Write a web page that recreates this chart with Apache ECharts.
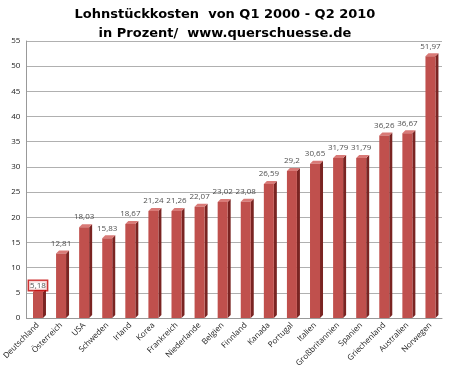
<!DOCTYPE html>
<html><head><meta charset="utf-8">
<script src="https://cdn.jsdelivr.net/npm/echarts@6/dist/echarts.min.js"></script>
<style>html,body{margin:0;padding:0;background:#fff}#c{width:450px;height:373px}</style>
</head><body><div id="c"></div>
<script>
const categories = ["Deutschland","Österreich","USA","Schweden","Irland","Korea","Frankreich","Niederlande","Belgien","Finnland","Kanada","Portugal","Italien","Großbritannien","Spanien","Griechenland","Australien","Norwegen"];
const values = [5.18,12.81,18.03,15.83,18.67,21.24,21.26,22.07,23.02,23.08,26.59,29.2,30.65,31.79,31.79,36.26,36.67,51.97];
const yTicks = {min:0, max:55, interval:5};
const titleLines = ["Lohnstückkosten  von Q1 2000 - Q2 2010","in Prozent/  www.querschuesse.de"];

const chart = echarts.init(document.getElementById('c'), null, {renderer:'canvas'});
const fmt = v => String(v).replace('.', ',');
chart.setOption({
  animation:false,
  title:[
    {text:titleLines[0], left:'center', top:3, textStyle:{fontFamily:'DejaVu Sans', fontWeight:'bold', fontSize:13, color:'#000'}},
    {text:titleLines[1], left:'center', top:22, textStyle:{fontFamily:'DejaVu Sans', fontWeight:'bold', fontSize:13, color:'#000'}}
  ],
  grid:{left:22, right:8, top:41, bottom:55},
  xAxis:{type:'category', data:categories,
    axisLine:{lineStyle:{color:'#999'}}, axisTick:{lineStyle:{color:'#999'}},
    axisLabel:{rotate:45, fontSize:8, color:'#222', fontFamily:'Open Sans', interval:0, margin:6}},
  yAxis:{type:'value', min:yTicks.min, max:yTicks.max, interval:yTicks.interval,
    axisLine:{show:true, lineStyle:{color:'#999'}}, axisTick:{show:false},
    splitLine:{lineStyle:{color:'#b0b0b0'}},
    axisLabel:{fontSize:8, color:'#222', fontFamily:'Open Sans', margin:6}},
  series:[
    {type:'custom', data:values.map((v,i)=>[i,v]),
     renderItem:(params, api)=>{
       const top = api.coord([api.value(0), api.value(1)]);
       const bot = api.coord([api.value(0), 0]);
       const w = 10, d = 3;
       const x0 = top[0]-w/2, x1 = top[0]+w/2;
       return {type:'group', children:[
         {type:'polygon', shape:{points:[[x1,top[1]],[x1+d,top[1]-d],[x1+d,bot[1]-d],[x1,bot[1]]]}, style:{fill:'#7a2422'}},
         {type:'polygon', shape:{points:[[x0,top[1]],[x0+d,top[1]-d],[x1+d,top[1]-d],[x1,top[1]]]}, style:{fill:'#d97a77'}},
         {type:'rect', shape:{x:x0, y:top[1], width:w, height:bot[1]-top[1]}, style:{fill:'#c0504d'}}
       ]};
     }, z:3},
    {type:'scatter', symbolSize:0, data:values.map((v,i)=>({value:[i,v],
       label: i===0 ? {borderColor:'#c00000', borderWidth:1.5, backgroundColor:'#fff', padding:[1,1,0,1], offset:[0,4]} : {}})),
     label:{show:true, position:'top', distance:6, fontSize:8, color:'#222', fontFamily:'Open Sans', formatter:p=>fmt(p.value[1])}, z:5}
  ]
});
</script></body></html>
